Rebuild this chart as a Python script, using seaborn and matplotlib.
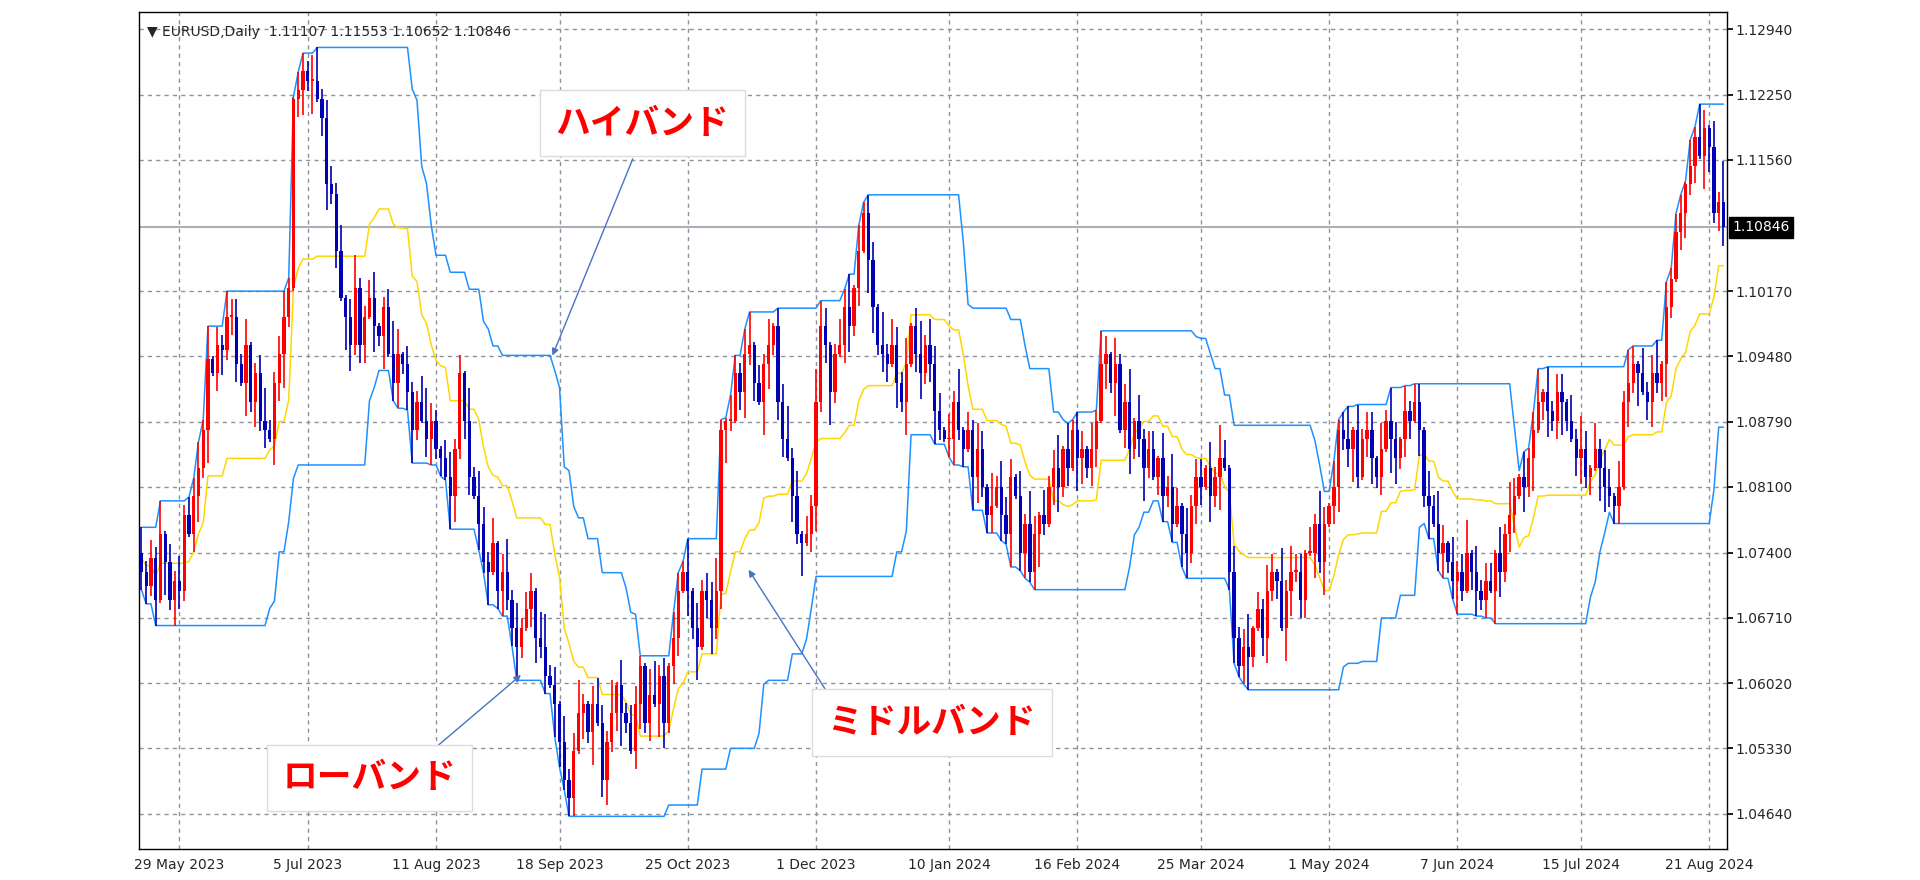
import numpy as np
import pandas as pd
import matplotlib
matplotlib.use("Agg")
import matplotlib.pyplot as plt
import seaborn as sns

closes = [
 1.0720,1.0705,1.0735,1.0690,1.0760,1.0730,1.0690,1.0710,1.0700,1.0780,
 1.0760,1.0800,1.0830,1.0870,1.0945,1.0930,1.0960,1.0955,1.0990,1.0990,
 1.0940,1.0920,1.0960,1.0900,1.0930,1.0880,1.0870,1.0860,1.0920,1.0950,
 1.0990,1.1020,1.1220,1.1230,1.1250,1.1240,1.1240,1.1220,1.1200,1.1130,
 1.1120,1.1060,1.1010,1.0990,1.0960,1.1020,1.0960,1.0990,1.1010,1.0980,
 1.0970,1.1000,1.0950,1.0920,1.0950,1.0940,1.0910,1.0870,1.0900,1.0880,
 1.0860,1.0880,1.0850,1.0840,1.0820,1.0800,1.0850,1.0930,1.0880,1.0820,
 1.0800,1.0770,1.0730,1.0720,1.0750,1.0700,1.0720,1.0690,1.0660,1.0640,
 1.0660,1.0680,1.0700,1.0650,1.0640,1.0610,1.0600,1.0580,1.0540,1.0500,
 1.0480,1.0530,1.0570,1.0580,1.0550,1.0580,1.0560,1.0500,1.0540,1.0570,
 1.0600,1.0570,1.0560,1.0530,1.0580,1.0620,1.0560,1.0590,1.0580,1.0610,
 1.0560,1.0620,1.0650,1.0700,1.0720,1.0700,1.0660,1.0640,1.0700,1.0690,
 1.0660,1.0700,1.0870,1.0880,1.0880,1.0930,1.0910,1.0950,1.0960,1.0920,
 1.0900,1.0940,1.0960,1.0980,1.0900,1.0860,1.0840,1.0800,1.0760,1.0750,
 1.0760,1.0790,1.0900,1.0980,1.0960,1.0910,1.0950,1.0960,1.1000,1.0980,
 1.1020,1.1060,1.1100,1.1050,1.1000,1.0960,1.0950,1.0940,1.0960,1.0920,
 1.0900,1.0940,1.0980,1.0950,1.0930,1.0960,1.0940,1.0890,1.0870,1.0860,
 1.0860,1.0900,1.0870,1.0850,1.0870,1.0820,1.0850,1.0810,1.0780,1.0790,
 1.0810,1.0780,1.0760,1.0820,1.0800,1.0740,1.0770,1.0720,1.0760,1.0780,
 1.0770,1.0810,1.0830,1.0810,1.0850,1.0830,1.0870,1.0840,1.0850,1.0830,
 1.0850,1.0880,1.0940,1.0950,1.0920,1.0940,1.0870,1.0900,1.0850,1.0880,
 1.0860,1.0830,1.0850,1.0820,1.0840,1.0800,1.0810,1.0770,1.0790,1.0760,
 1.0740,1.0790,1.0820,1.0810,1.0830,1.0800,1.0820,1.0840,1.0830,1.0720,
 1.0650,1.0620,1.0640,1.0630,1.0660,1.0680,1.0650,1.0700,1.0720,1.0710,
 1.0660,1.0700,1.0720,1.0720,1.0690,1.0740,1.0740,1.0770,1.0730,1.0770,
 1.0790,1.0810,1.0870,1.0860,1.0850,1.0870,1.0820,1.0860,1.0870,1.0840,
 1.0820,1.0850,1.0880,1.0860,1.0840,1.0860,1.0890,1.0880,1.0900,1.0870,
 1.0800,1.0790,1.0770,1.0740,1.0750,1.0730,1.0710,1.0720,1.0700,1.0740,
 1.0720,1.0700,1.0690,1.0710,1.0700,1.0740,1.0720,1.0760,1.0780,1.0800,
 1.0820,1.0810,1.0840,1.0870,1.0900,1.0910,1.0890,1.0880,1.0910,1.0900,
 1.0880,1.0860,1.0840,1.0850,1.0820,1.0830,1.0850,1.0830,1.0810,1.0800,
 1.0790,1.0810,1.0900,1.0920,1.0940,1.0930,1.0910,1.0900,1.0930,1.0920,
 1.0940,1.1000,1.1030,1.1080,1.1100,1.1130,1.1150,1.1180,1.1160,1.1190,
 1.1170,1.1100,1.1111,1.10846]
first_open = 1.0740
# wick sizes, one digit per bar, in units of 8 pips
upper_wicks = ("3121402131223140213221301241123102213412"
               "2130241123012430211342102312041321302413"
               "1220341203124102321403122103412032140312"
               "2410321340213022413021432013240312204132"
               "1302413220314021320413220314203124031220"
               "3142031240312203142031220314203124021320"
               "4132203142031240312203142031220314203124"
               "0312203142031240312203142031220314203124"
               "03122031420312403122031420312")
lower_wicks = ("2213041321023140231220413120324102314023"
               "1204312203140231241023120431220314023124"
               "1023120431220314023124102312043122031402"
               "3124102312043122031402312410231204312203"
               "1402312410231204312203140231241023120431"
               "2203140231241023120431220314023124102312"
               "0431220314023124102312043122031402312410"
               "2312043122031402312410231204312203140231"
               "24102312043122031402312410231")
date_labels = ["29 May 2023", "5 Jul 2023", "11 Aug 2023", "18 Sep 2023", "25 Oct 2023",
               "1 Dec 2023", "10 Jan 2024", "16 Feb 2024", "25 Mar 2024", "1 May 2024",
               "7 Jun 2024", "15 Jul 2024", "21 Aug 2024"]
price_ticks = [1.12940, 1.12250, 1.11560, 1.10170, 1.09480, 1.08790, 1.08100,
               1.07400, 1.06710, 1.06020, 1.05330, 1.04640]
last_price = 1.10846

n = len(closes)
dates = pd.bdate_range("2023-05-17", periods=n)
c = np.array(closes)
o = np.concatenate([[first_open], c[:-1]])
uw = np.array([int(ch) for ch in (upper_wicks + "2" * n)[:n]]) * 0.0008 + 0.0003
lw = np.array([int(ch) for ch in (lower_wicks + "2" * n)[:n]]) * 0.0008 + 0.0003
h = np.maximum(o, c) + uw
l = np.minimum(o, c) - lw
h[-1], l[-1] = 1.11553, 1.10652
df = pd.DataFrame({"i": np.arange(n), "o": o, "h": h, "l": l, "c": c})
df["hi"] = df["h"].rolling(20, min_periods=1).max()
df["lo"] = df["l"].rolling(20, min_periods=1).min()
df["mid"] = (df["hi"] + df["lo"]) / 2

sns.set_theme(style="white")
plt.rcParams["font.family"] = ["DejaVu Sans", "Noto Sans CJK JP"]
fig = plt.figure(figsize=(19.2, 8.8), dpi=100)
W, H = 1560, 715
ax = fig.add_axes([113 / W, 1 - 690 / H, (1403 - 113) / W, (690 - 10) / H])
ax.set_facecolor("white")

grid_kw = dict(color="#8c939c", lw=1, ls=(0, (3, 3)), zorder=0)
for p in price_ticks:
    ax.axhline(p, **grid_kw)
tick_pos = [int(dates.get_indexer([pd.Timestamp(d)], method="nearest")[0]) for d in date_labels]
for t in tick_pos:
    ax.axvline(t, **grid_kw)
ax.axhline(last_price, color="#a9b0b8", lw=1.5, zorder=0.5)

sns.lineplot(data=df, x="i", y="hi", color="#1e90ff", lw=1.1, ax=ax, zorder=2)
sns.lineplot(data=df, x="i", y="lo", color="#1e90ff", lw=1.1, ax=ax, zorder=2)
sns.lineplot(data=df, x="i", y="mid", color="#ffd700", lw=1.1, ax=ax, zorder=2)

up = df["c"] >= df["o"]
col = np.where(up, "#ff0000", "#0000b4")
ax.vlines(df["i"], df["l"], df["h"], colors=col, lw=1.2, zorder=3)
ax.bar(df["i"], (df["c"] - df["o"]).abs().clip(lower=0.0002), bottom=np.minimum(df["o"], df["c"]),
       width=0.7, color=col, linewidth=0, edgecolor="none", zorder=4)

ax.set_xlim(-0.5, n - 0.3)
ax.set_ylim(1.04262, 1.13122)
ax.yaxis.tick_right()
ax.set_yticks(price_ticks)
ax.set_yticklabels([f"{p:.5f}" for p in price_ticks], fontsize=10)
ax.set_xticks(tick_pos)
ax.set_xticklabels(date_labels, fontsize=10)
ax.tick_params(axis="both", length=4, color="black", direction="out", pad=2)
ax.set_xlabel("")
ax.set_ylabel("")
for s in ax.spines.values():
    s.set_color("black")
    s.set_linewidth(1)

ax.text(0.005, 0.985, "▼ EURUSD,Daily  1.11107 1.11553 1.10652 1.10846", transform=ax.transAxes,
        fontsize=10, va="top", ha="left")
ax.annotate(f"{last_price:.5f}", xy=(1.0, last_price), xycoords=("axes fraction", "data"),
            xytext=(4, 0), textcoords="offset points", va="center", ha="left", fontsize=10,
            color="white", bbox=dict(boxstyle="square,pad=0.25", fc="black", ec="black"))

jp = ["Noto Sans CJK JP", "DejaVu Sans"]
labels = [("ハイバンド", (522 / W, 1 - 100 / H), (515 / W, 1 - 127 / H), (448 / W, 1 - 291 / H)),
          ("ミドルバンド", (757 / W, 1 - 587 / H), (675 / W, 1 - 567 / H), (607 / W, 1 - 461 / H)),
          ("ローバンド", (300 / W, 1 - 632 / H), (352 / W, 1 - 609 / H), (425 / W, 1 - 547 / H))]
for txt, pos, a0, a1 in labels:
    fig.text(pos[0], pos[1], txt, fontsize=25, fontweight="bold", color="#ff0000", family=jp,
             ha="center", va="center",
             bbox=dict(boxstyle="square,pad=0.45", fc="white", ec="#dcdcdc", lw=1))
    fig.add_artist(matplotlib.patches.FancyArrowPatch(a0, a1, transform=fig.transFigure,
                   arrowstyle="-|>,head_length=4,head_width=2", color="#4a72c4", lw=1))

fig.savefig("out.png", dpi=100, facecolor="white")
